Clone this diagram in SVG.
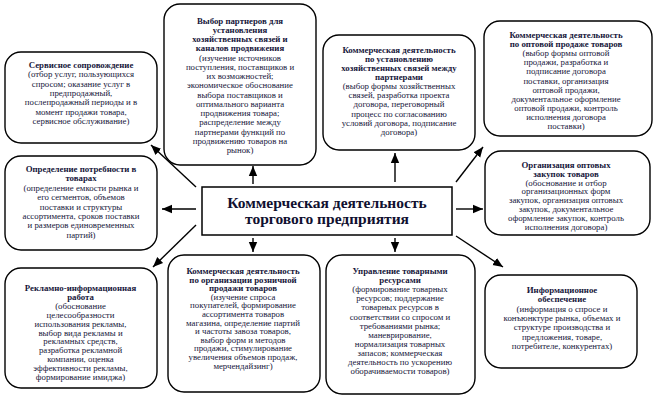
<svg xmlns="http://www.w3.org/2000/svg" width="658" height="401" viewBox="0 0 658 401">
<defs>
<marker id="ah" markerUnits="userSpaceOnUse" markerWidth="10" markerHeight="10" viewBox="0 0 10 10" refX="10" refY="5" orient="auto">
<path d="M0,0.8 L10,5 L0,9.2 Z" fill="#000"/>
</marker>
<style>
.box{fill:#fff;stroke:#000;stroke-width:1.4}
.t{font-family:"Liberation Serif","Times New Roman",serif;font-size:8.8px;fill:#16163a;text-anchor:middle}
.b{font-weight:bold}
.title{font-family:"Liberation Serif","Times New Roman",serif;font-size:15.5px;font-weight:bold;fill:#101030;text-anchor:middle}
.c{stroke:#000;stroke-width:1.4;fill:none;marker-end:url(#ah)}
</style>
</defs>
<rect width="658" height="401" fill="#fff"/>

<g id="center">
<rect x="202" y="187" width="250" height="48" fill="#fff" stroke="#000" stroke-width="1.5"/>
<text class="title" x="327" y="208">Коммерческая деятельность</text>
<text class="title" x="327" y="224">торгового предприятия</text>
</g>

<g id="box1">
<rect class="box" x="5" y="52" width="152" height="91" rx="16"/>
<text class="t"><tspan class="b" x="81" y="68">Сервисное сопровождение</tspan><tspan x="81" y="77.3">(отбор услуг, пользующихся</tspan><tspan x="81" y="86.6">спросом; оказание услуг в</tspan><tspan x="81" y="95.9">предпродажный,</tspan><tspan x="81" y="105.2">послепродажный периоды и в</tspan><tspan x="81" y="114.5">момент продажи товара,</tspan><tspan x="81" y="123.8">сервисное обслуживание)</tspan></text>
</g>

<g id="box2">
<rect class="box" x="164" y="4" width="152" height="161" rx="16"/>
<text class="t"><tspan class="b" x="240" y="23.7">Выбор партнеров для</tspan><tspan class="b" x="240" y="32.9">установления</tspan><tspan class="b" x="240" y="42.2">хозяйственных связей и</tspan><tspan class="b" x="240" y="51.4">каналов продвижения</tspan><tspan x="240" y="60.7">(изучение источников</tspan><tspan x="240" y="69.9">поступления, поставщиков и</tspan><tspan x="240" y="79.1">их возможностей;</tspan><tspan x="240" y="88.4">экономическое обоснование</tspan><tspan x="240" y="97.6">выбора поставщиков и</tspan><tspan x="240" y="106.9">оптимального варианта</tspan><tspan x="240" y="116.1">продвижения товара;</tspan><tspan x="240" y="125.3">распределение между</tspan><tspan x="240" y="134.6">партнерами функций по</tspan><tspan x="240" y="143.8">продвижению товаров на</tspan><tspan x="240" y="153.1">рынок)</tspan></text>
</g>

<g id="box3">
<rect class="box" x="323" y="35" width="152" height="115" rx="16"/>
<text class="t"><tspan class="b" x="399" y="53">Коммерческая деятельность</tspan><tspan class="b" x="399" y="62.1">по установлению</tspan><tspan class="b" x="399" y="71.1">хозяйственных связей между</tspan><tspan class="b" x="399" y="80.2">партнерами</tspan><tspan x="399" y="89.3">(выбор формы хозяйственных</tspan><tspan x="399" y="98.4">связей, разработка проекта</tspan><tspan x="399" y="107.4">договора, переговорный</tspan><tspan x="399" y="116.5">процесс по согласованию</tspan><tspan x="399" y="125.6">условий договора, подписание</tspan><tspan x="399" y="134.6">договора)</tspan></text>
</g>

<g id="box4">
<rect class="box" x="484" y="21" width="168" height="115" rx="16"/>
<text class="t"><tspan class="b" x="566" y="38">Коммерческая деятельность</tspan><tspan class="b" x="566" y="47.1">по оптовой продаже товаров</tspan><tspan x="566" y="56.2">(выбор формы оптовой</tspan><tspan x="566" y="65.3">продажи, разработка и</tspan><tspan x="566" y="74.4">подписание договора</tspan><tspan x="566" y="83.5">поставки, организация</tspan><tspan x="566" y="92.6">оптовой продажи,</tspan><tspan x="566" y="101.7">документальное оформление</tspan><tspan x="566" y="110.8">оптовой продажи, контроль</tspan><tspan x="566" y="119.9">исполнения договора</tspan><tspan x="566" y="129">поставки)</tspan></text>
</g>

<g id="box5">
<rect class="box" x="5" y="156" width="152" height="94" rx="16"/>
<text class="t"><tspan class="b" x="81" y="172">Определение потребности в</tspan><tspan class="b" x="81" y="181.4">товарах</tspan><tspan x="81" y="190.8">(определение емкости рынка и</tspan><tspan x="81" y="200.2">его сегментов, объемов</tspan><tspan x="81" y="209.6">поставки и структуры</tspan><tspan x="81" y="219">ассортимента, сроков поставки</tspan><tspan x="81" y="228.4">и размеров единовременных</tspan><tspan x="81" y="237.8">партий)</tspan></text>
</g>

<g id="box6">
<rect class="box" x="485" y="151" width="165" height="84" rx="16"/>
<text class="t"><tspan class="b" x="566" y="168">Организация оптовых</tspan><tspan class="b" x="566" y="176.8">закупок товаров</tspan><tspan x="566" y="185.6">(обоснование и отбор</tspan><tspan x="566" y="194.4">организационных форм</tspan><tspan x="566" y="203.2">закупок, организация оптовых</tspan><tspan x="566" y="212">закупок, документальное</tspan><tspan x="566" y="220.8">оформление закупок, контроль</tspan><tspan x="566" y="229.6">исполнения договора)</tspan></text>
</g>

<g id="box7">
<rect class="box" x="5" y="268" width="152" height="120" rx="16"/>
<text class="t"><tspan class="b" x="80.5" y="291">Рекламно-информационная</tspan><tspan class="b" x="80.5" y="299.9">работа</tspan><tspan x="80.5" y="308.8">(обоснование</tspan><tspan x="80.5" y="317.7">целесообразности</tspan><tspan x="80.5" y="326.6">использования рекламы,</tspan><tspan x="80.5" y="335.5">выбор вида рекламы и</tspan><tspan x="80.5" y="344.4">рекламных средств,</tspan><tspan x="80.5" y="353.3">разработка рекламной</tspan><tspan x="80.5" y="362.2">компании, оценка</tspan><tspan x="80.5" y="371.1">эффективности рекламы,</tspan><tspan x="80.5" y="380">формирование имиджа)</tspan></text>
</g>

<g id="box8">
<rect class="box" x="168" y="255" width="152" height="137" rx="16"/>
<text class="t"><tspan class="b" x="243" y="274">Коммерческая деятельность</tspan><tspan class="b" x="243" y="282.6">по организации розничной</tspan><tspan class="b" x="243" y="291.2">продажи товаров</tspan><tspan x="243" y="299.8">(изучение спроса</tspan><tspan x="243" y="308.4">покупателей, формирование</tspan><tspan x="243" y="317">ассортимента товаров</tspan><tspan x="243" y="325.6">магазина, определение партий</tspan><tspan x="243" y="334.2">и частоты завоза товаров,</tspan><tspan x="243" y="342.8">выбор форм и методов</tspan><tspan x="243" y="351.4">продажи, стимулирование</tspan><tspan x="243" y="360">увеличения объемов продаж,</tspan><tspan x="243" y="368.6">мерчендайзинг)</tspan></text>
</g>

<g id="box9">
<rect class="box" x="326" y="255" width="149" height="139" rx="16"/>
<text class="t"><tspan class="b" x="400" y="274">Управление товарными</tspan><tspan class="b" x="400" y="283.1">ресурсами</tspan><tspan x="400" y="292.2">(формирование товарных</tspan><tspan x="400" y="301.3">ресурсов; поддержание</tspan><tspan x="400" y="310.4">товарных ресурсов в</tspan><tspan x="400" y="319.5">соответствии со спросом и</tspan><tspan x="400" y="328.6">требованиями рынка;</tspan><tspan x="400" y="337.7">маневрирование,</tspan><tspan x="400" y="346.8">нормализация товарных</tspan><tspan x="400" y="355.9">запасов; коммерческая</tspan><tspan x="400" y="365">деятельность по ускорению</tspan><tspan x="400" y="374.1">оборачиваемости товаров)</tspan></text>
</g>

<g id="box10">
<rect class="box" x="485" y="275" width="152" height="93" rx="16"/>
<text class="t"><tspan class="b" x="562" y="293">Информационное</tspan><tspan class="b" x="562" y="302.3">обеспечение</tspan><tspan x="562" y="311.6">(информация о спросе и</tspan><tspan x="562" y="320.9">конъюнктуре рынка, объемах и</tspan><tspan x="562" y="330.2">структуре производства и</tspan><tspan x="562" y="339.5">предложения, товаре,</tspan><tspan x="562" y="348.8">потребителе, конкурентах)</tspan></text>
</g>

<g id="connectors">
<line class="c" x1="196" y1="187" x2="151" y2="145"/>
<line class="c" x1="253" y1="184" x2="253" y2="166"/>
<line class="c" x1="395" y1="182" x2="395" y2="153"/>
<line class="c" x1="456" y1="182" x2="483" y2="147"/>
<line class="c" x1="196" y1="209" x2="162" y2="209"/>
<line class="c" x1="456" y1="209" x2="483" y2="209"/>
<line class="c" x1="196" y1="225" x2="153" y2="267"/>
<line class="c" x1="253" y1="238" x2="253" y2="252"/>
<line class="c" x1="395" y1="238" x2="395" y2="252"/>
<line class="c" x1="456" y1="236" x2="503" y2="267"/>
</g>
</svg>
